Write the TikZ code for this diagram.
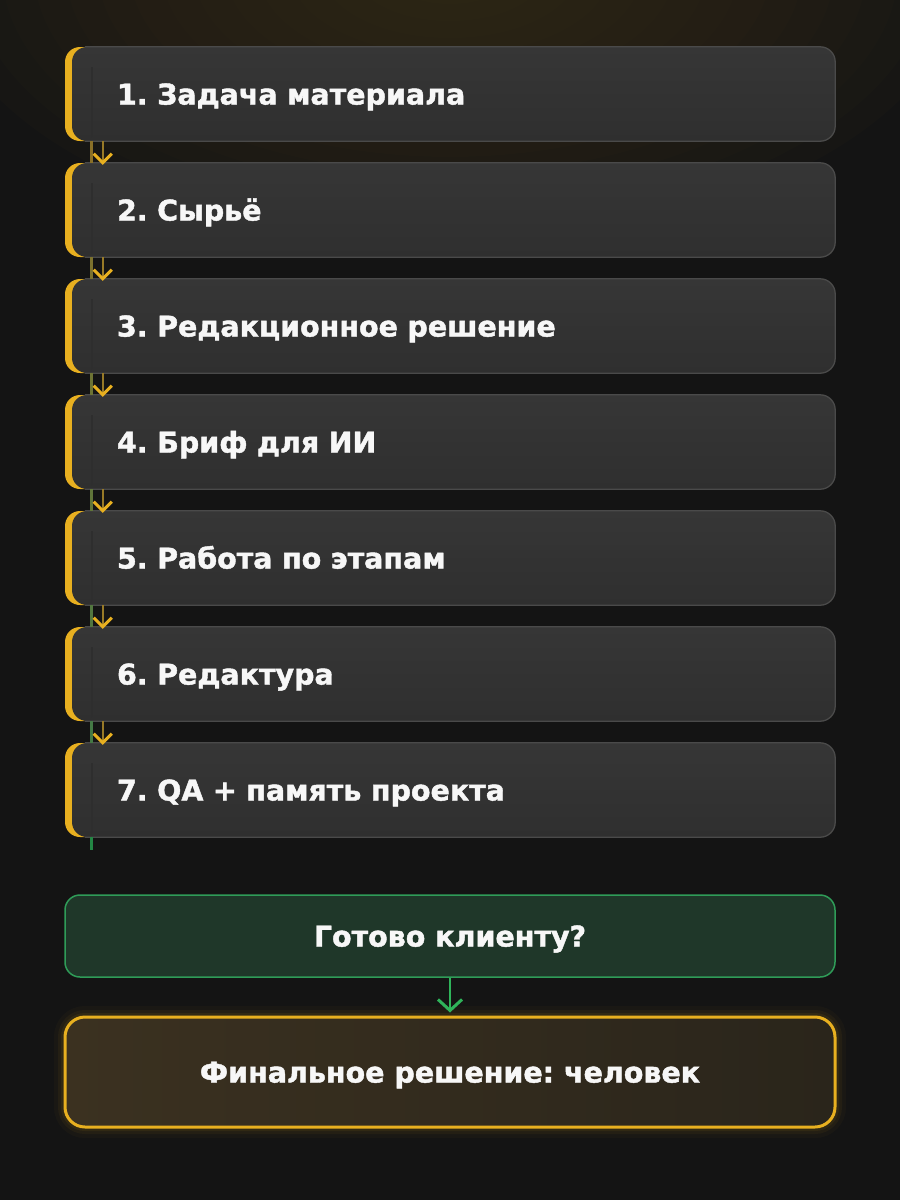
\documentclass[tikz,border=0pt]{standalone}
\usepackage{fontspec}
\setmainfont{DejaVu Sans}[BoldFeatures={FakeBold=1.5}]
\frenchspacing
\usetikzlibrary{arrows.meta}
\definecolor{bgc}{HTML}{141414}
\definecolor{glowc}{HTML}{3D3219}
\definecolor{boxtop}{HTML}{363636}
\definecolor{boxbot}{HTML}{2F2F2F}
\definecolor{borderc}{HTML}{4A4A4A}
\definecolor{innerc}{HTML}{2E2E2E}
\definecolor{accent}{HTML}{E8B020}
\definecolor{dimy}{HTML}{8A7028}
\definecolor{dimg}{HTML}{3C7A48}
\definecolor{greenc}{HTML}{2FB35A}
\definecolor{gfill}{HTML}{1F3729}
\definecolor{gborder}{HTML}{2F9C58}
\definecolor{ffillL}{HTML}{3B3120}
\definecolor{ffillR}{HTML}{2A251B}
\definecolor{txtc}{HTML}{F7F7F7}
\newcommand{\mybfont}{\fontsize{28.5}{33}\selectfont\bfseries}
\tikzset{
  stepbox/.style={minimum height=94, text width=666, inner xsep=52, inner ysep=0,
    text height=21, text depth=0,
    align=left, rounded corners=15, fill=accent, text=txtc, font=\mybfont,
    path picture={
      \shade[top color=boxtop, bottom color=boxbot, rounded corners=15]
        ([xshift=7pt]path picture bounding box.south west) rectangle (path picture bounding box.north east);
      \draw[innerc, line width=1.5]
        ([xshift=27pt,yshift=4pt]path picture bounding box.south west) --
        ([xshift=27pt,yshift=-20pt]path picture bounding box.north west);
    }},
  boxborder/.style={draw=borderc, line width=1.3, rounded corners=15},
  sideline/.style={line width=3},
  flowarrow/.style={draw=dimy!85!accent, line width=2,
    -{Straight Barb[length=9pt,width=18pt,line width=3pt,color=accent]}},
  greenarrow/.style={draw=greenc, line width=2.5, shorten >=3pt,
    -{Straight Barb[length=11pt,width=24pt,line width=3pt]}},
  checkbox/.style={minimum width=770, minimum height=82, rounded corners=15,
    text height=21, text depth=0,
    fill=gfill, draw=gborder, line width=1.5, text=txtc, font=\mybfont, align=center},
  finalbox/.style={minimum width=770, minimum height=110, rounded corners=20,
    text height=21, text depth=0,
    left color=ffillL, right color=ffillR, draw=accent, line width=3, text=txtc,
    font=\mybfont, align=center,
    preaction={draw=accent, line width=22, draw opacity=0.03},
    preaction={draw=accent, line width=14, draw opacity=0.05},
    preaction={draw=accent, line width=8, draw opacity=0.07}}
}
\begin{document}
\begin{tikzpicture}[x=1pt,y=-1pt]
\useasboundingbox (0,0) rectangle (900,1200);
\fill[bgc] (0,0) rectangle (900,1200);
\begin{scope}
  \clip (0,0) rectangle (900,1200);
  \foreach \k in {1,...,16}{
    \fill[glowc, opacity=0.075] (450,-30) ellipse ({32*\k} and {17*\k});
  }
\end{scope}

% step boxes
\node[stepbox] (s1) at (450,94)  {1. Задача материала};
\node[stepbox] (s2) at (450,210) {2. Сырьё};
\node[stepbox] (s3) at (450,326) {3. Редакционное решение};
\node[stepbox] (s4) at (450,442) {4. Бриф для ИИ};
\node[stepbox] (s5) at (450,558) {5. Работа по этапам};
\node[stepbox] (s6) at (450,674) {6. Редактура};
\node[stepbox] (s7) at (450,790) {7. QA + память проекта};

\foreach \i in {1,...,7}{
  \draw[boxborder] ([xshift=20pt]s\i.south west) -- (s\i.south east) -- (s\i.north east) -- ([xshift=20pt]s\i.north west);
}

% connectors between steps
\foreach \i [evaluate=\i as \j using int(\i+1), evaluate=\i as \p using int(100-(\i-1)*18)] in {1,...,6}{
  \draw[sideline, draw=dimy!\p!dimg] ([xshift=27pt]s\i.south west) -- ([xshift=27pt]s\j.north west);
  \draw[flowarrow] ([xshift=38pt]s\i.south west) -- ([xshift=38pt,yshift=-2pt]s\j.north west);
}
\coordinate (gend) at ([xshift=27pt,yshift=-13pt]s7.south west);
\draw[sideline, draw=greenc!75!black] ([xshift=27pt]s7.south west) -- (gend);

% decision and final
\node[checkbox] (g) at (450,936) {Готово клиенту?};
\node[finalbox] (f) at (450,1072) {Финальное решение: человек};
\draw[greenarrow] (g.south) -- (f.north);
\end{tikzpicture}
\end{document}
